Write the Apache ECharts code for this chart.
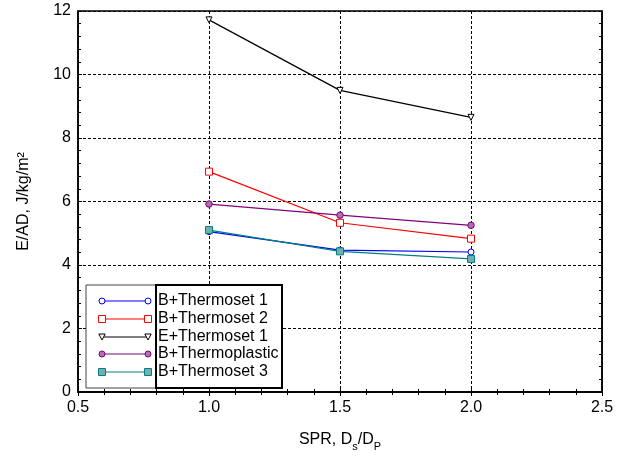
<!DOCTYPE html>
<html>
<head>
<meta charset="utf-8">
<script src="https://cdn.jsdelivr.net/npm/echarts@6/dist/echarts.min.js"></script>
<style>html,body{margin:0;padding:0;background:#fff}#c{width:624px;height:457px}</style>
</head>
<body>
<div id="c"></div>
<script>
const spr = [1.0, 1.5, 2.0];
const seriesNames = ['B+Thermoset 1', 'B+Thermoset 2', 'E+Thermoset 1', 'B+Thermoplastic', 'B+Thermoset 3'];
const bThermoset1 = [5.05, 4.47, 4.41];
const bThermoset2 = [6.94, 5.33, 4.83];
const eThermoset1 = [11.72, 9.5, 8.65];
const bThermoplastic = [5.92, 5.57, 5.25];
const bThermoset3 = [5.1, 4.43, 4.19];
const xTicks = [0.5, 1.0, 1.5, 2.0, 2.5];
const yTicks = [0, 2, 4, 6, 8, 10, 12];

const values = [bThermoset1, bThermoset2, eThermoset1, bThermoplastic, bThermoset3];
const colors = ['#0000ff', '#ff0000', '#000000', '#800080', '#008080'];
const symbols = ['circle', 'rect', 'triangle', 'circle', 'rect'];
const fills = ['#ffffff', '#ffffff', '#ffffff', '#b070b0', '#70b0b0'];
const sizes = [6, 7, 6, 6.5, 7];
const rot = [0, 0, 180, 0, 0];

const chart = echarts.init(document.getElementById('c'), null, {renderer: 'canvas'});
const FONT = 'Liberation Sans, Arial, sans-serif';

const series = values.map((v, i) => ({
  name: seriesNames[i],
  type: 'line',
  data: spr.map((x, j) => [x, v[j]]),
  symbol: symbols[i],
  symbolSize: sizes[i],
  symbolRotate: rot[i],
  showAllSymbol: true,
  color: colors[i],
  lineStyle: {color: colors[i], width: 1.2},
  itemStyle: {color: fills[i], borderColor: colors[i], borderWidth: 1},
  emphasis: {disabled: true},
  animation: false,
  z: 3
}));

// legend graphic
const lx0 = 86, lx1 = 282, ly0 = 285, ly1 = 388, boxX = 156;
const rows = [301, 319, 337, 354, 372];
const legendEls = [
  {type: 'rect', shape: {x: lx0, y: ly0, width: lx1 - lx0, height: ly1 - ly0}, style: {fill: '#fff', stroke: '#444', lineWidth: 1}, z: 10},
  {type: 'rect', shape: {x: boxX, y: ly0, width: lx1 - boxX, height: ly1 - ly0}, style: {fill: 'none', stroke: '#000', lineWidth: 2}, z: 11}
];
seriesNames.forEach((n, i) => {
  const y = rows[i];
  legendEls.push({type: 'line', shape: {x1: 102, y1: y, x2: 148, y2: y}, style: {stroke: colors[i], lineWidth: 1.2}, z: 12});
  [102, 148].forEach(x => {
    let el;
    if (symbols[i] === 'circle') {
      el = {type: 'circle', shape: {cx: x, cy: y, r: 3}, style: {fill: fills[i], stroke: colors[i], lineWidth: 1}, z: 13};
    } else if (symbols[i] === 'rect') {
      el = {type: 'rect', shape: {x: x - 3.5, y: y - 3.5, width: 7, height: 7}, style: {fill: fills[i], stroke: colors[i], lineWidth: 1}, z: 13};
    } else {
      el = {type: 'polygon', shape: {points: [[x - 3.2, y - 3], [x + 3.2, y - 3], [x, y + 3]]}, style: {fill: fills[i], stroke: colors[i], lineWidth: 1}, z: 13};
    }
    legendEls.push(el);
  });
  legendEls.push({type: 'text', x: 158, y: y, style: {text: n, font: '16px ' + FONT, fill: '#000', verticalAlign: 'middle', align: 'left'}, z: 13});
});

const baseX = {type: 'value', min: 0.5, max: 2.5, interval: 0.5};
const baseY = {type: 'value', min: 0, max: 12, interval: 2};

chart.setOption({
  backgroundColor: '#fff',
  animation: false,
  grid: {left: 78, right: 22, top: 11, bottom: 62, show: true, borderColor: '#000', borderWidth: 1.5, backgroundColor: 'transparent'},
  xAxis: [
    Object.assign({}, baseX, {
      position: 'bottom',
      name: '{m|SPR, D}{s|s}{m|/D}{s|P}',
      nameLocation: 'middle',
      nameGap: 40,
      nameTextStyle: {rich: {
        m: {fontSize: 16, fontFamily: FONT, color: '#000', lineHeight: 20, verticalAlign: 'top'},
        s: {fontSize: 11, fontFamily: FONT, color: '#000', lineHeight: 20, verticalAlign: 'bottom', padding: [9, 0, 0, 0]}
      }},
      axisLine: {show: true, lineStyle: {color: '#000', width: 1.5}},
      axisTick: {show: true, inside: true, length: 4, lineStyle: {color: '#000'}},
      minorTick: {show: true, splitNumber: 5, length: 3, lineStyle: {color: '#000'}},
      axisLabel: {fontSize: 16, fontFamily: FONT, color: '#000', margin: 8, formatter: v => v.toFixed(1)},
      splitLine: {show: true, lineStyle: {color: '#000', type: [3, 2], width: 1}}
    }),
    Object.assign({}, baseX, {
      position: 'top',
      axisLine: {show: true, lineStyle: {color: '#000', width: 1.5}},
      axisTick: {show: true, inside: true, length: 4, lineStyle: {color: '#000'}},
      minorTick: {show: true, splitNumber: 5, length: 3, lineStyle: {color: '#000'}},
      axisLabel: {show: false},
      splitLine: {show: false}
    })
  ],
  yAxis: [
    Object.assign({}, baseY, {
      position: 'left',
      name: 'E/AD, J/kg/m²',
      nameLocation: 'middle',
      nameGap: 46,
      nameTextStyle: {fontSize: 16, fontFamily: FONT, color: '#000'},
      axisLine: {show: true, lineStyle: {color: '#000', width: 1.5}},
      axisTick: {show: true, inside: true, length: 4, lineStyle: {color: '#000'}},
      minorTick: {show: true, splitNumber: 5, length: 3, lineStyle: {color: '#000'}},
      axisLabel: {fontSize: 16, fontFamily: FONT, color: '#000', margin: 7},
      splitLine: {show: true, lineStyle: {color: '#000', type: [3, 2], width: 1}}
    }),
    Object.assign({}, baseY, {
      position: 'right',
      axisLine: {show: true, lineStyle: {color: '#000', width: 1.5}},
      axisTick: {show: true, inside: true, length: 4, lineStyle: {color: '#000'}},
      minorTick: {show: true, splitNumber: 5, length: 3, lineStyle: {color: '#000'}},
      axisLabel: {show: false},
      splitLine: {show: false}
    })
  ],
  series: series,
  graphic: legendEls
});
</script>
</body>
</html>
